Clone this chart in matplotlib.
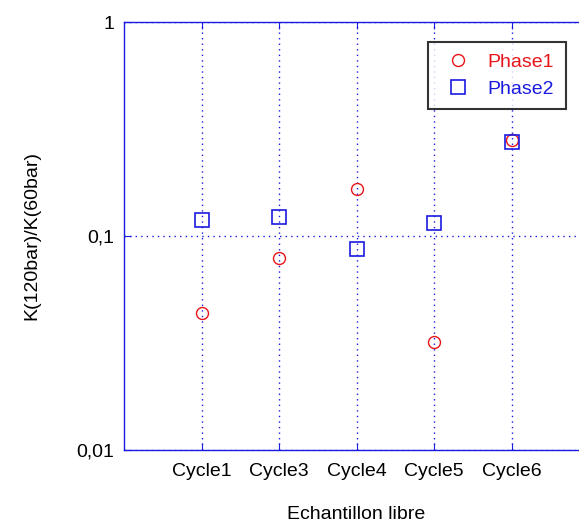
import numpy as np
import matplotlib.pyplot as plt
from matplotlib.ticker import FixedLocator, FixedFormatter, NullLocator

plt.rcParams['font.family'] = ['Liberation Sans', 'DejaVu Sans']

cycles = ['Cycle1', 'Cycle3', 'Cycle4', 'Cycle5', 'Cycle6']
phase1 = [0.0437, 0.079, 0.166, 0.032, 0.281]
phase2 = [0.119, 0.123, 0.087, 0.115, 0.275]
yticks = [0.01, 0.1, 1]
ylabels = ['0,01', '0,1', '1']

fig = plt.figure(figsize=(5.79, 5.23), dpi=100)
# right edge of the axes falls outside the picture, as in the original
ax = fig.add_axes([124 / 579, 73 / 523, 465 / 579, 428 / 523])

x = np.arange(1, len(cycles) + 1)
ax.plot(x, phase1, 'o', ms=8.6, mfc='none', mec='#e8141a', mew=1.0, label='Phase1')
ax.plot(x, phase2, 's', ms=9.6, mfc='none', mec='#1a1ae0', mew=1.2, label='Phase2')

ax.set_yscale('log')
ax.set_ylim(0.01, 1)
ax.set_xlim(0, 6)
ax.yaxis.set_major_locator(FixedLocator(yticks))
ax.yaxis.set_major_formatter(FixedFormatter(ylabels))
ax.yaxis.set_minor_locator(NullLocator())
ax.set_xticks(x)
ax.set_xticklabels(cycles)

for s in ax.spines.values():
    s.set_color('#1a1ae0')
    s.set_linewidth(1.0)
ax.tick_params(direction='in', color='#1a1ae0', length=5, labelsize=14, pad=7,
               top=True, right=True)
ax.tick_params(axis='x', pad=9)
ax.grid(True, color='#1a1ae0', linestyle=(0, (1, 3)), linewidth=1.0)

ax.set_xlabel('Echantillon libre', fontsize=14, labelpad=19)
ax.set_ylabel('K(120bar)/K(60bar)', fontsize=14, labelpad=26)

leg = ax.legend(loc='upper right', bbox_to_anchor=(442 / 465, 1 - 20 / 428),
                borderaxespad=0, fontsize=14, frameon=True, fancybox=False,
                edgecolor='black', handletextpad=0.6, borderpad=0.6,
                labelspacing=0.45, handlelength=1.9)
leg.get_frame().set_linewidth(1.5)
for t, c in zip(leg.get_texts(), ['#e8141a', '#1a1ae0']):
    t.set_color(c)

fig.savefig('out.png', dpi=100)
